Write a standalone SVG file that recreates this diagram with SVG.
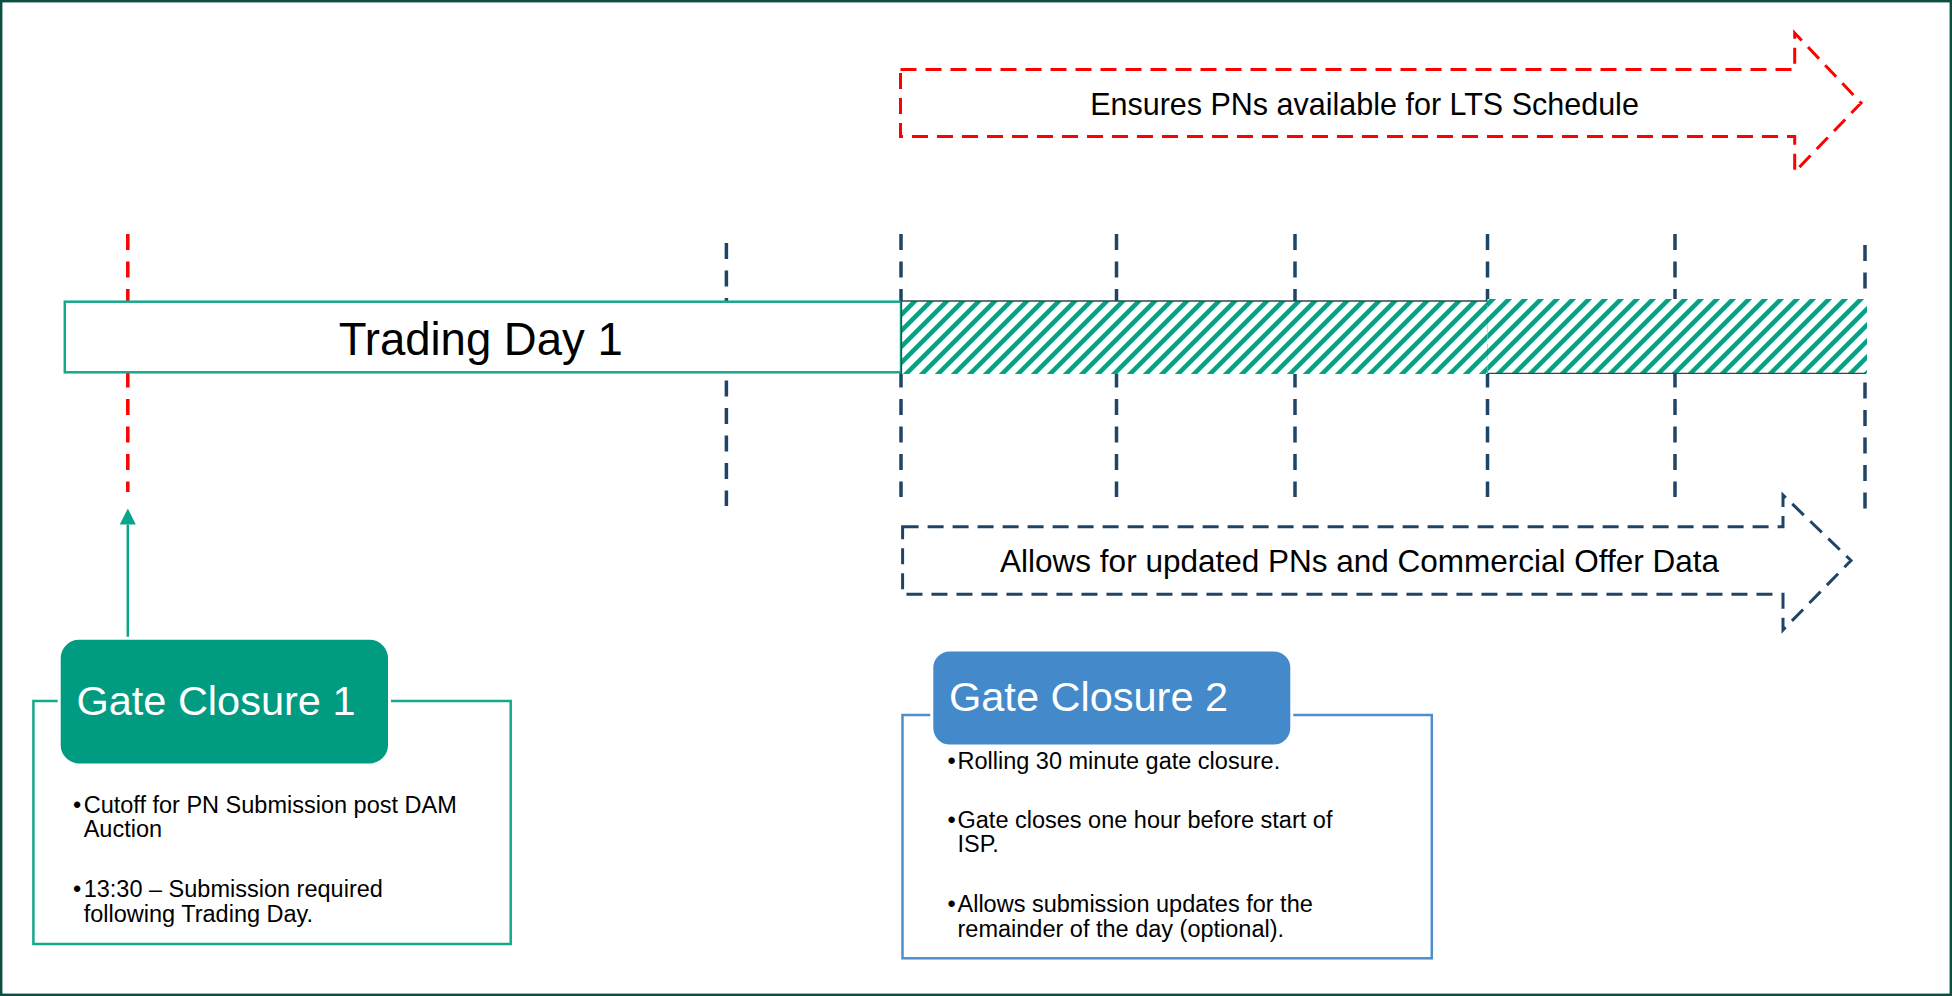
<svg xmlns="http://www.w3.org/2000/svg" width="1952" height="996" viewBox="0 0 1952 996">
<style>
text{font-family:"Liberation Sans",Arial,sans-serif;fill:#000}
.tick{stroke:#1f4468;stroke-width:3.5;stroke-dasharray:16 11.5;fill:none}
.red{stroke:#ff0000;stroke-width:3.5;stroke-dasharray:16 11.5;fill:none}
.hdr{font-size:41.5px;fill:#fff}
.bul{font-size:23.5px}
</style>
<defs>
<pattern id="hatch" patternUnits="userSpaceOnUse" width="16" height="16">
<rect width="16" height="16" fill="#fff"/>
<path d="M-4,4 L4,-4 M0,16 L16,0 M12,20 L20,12" stroke="#07a283" stroke-width="4.5"/>
</pattern>
<marker id="ah" viewBox="0 0 16 16" refX="0" refY="8" markerWidth="16" markerHeight="16" markerUnits="userSpaceOnUse" orient="auto">
<path d="M0,0 L16,8 L0,16 Z" fill="#0aa58a"/>
</marker>
</defs>
<rect x="0" y="0" width="1952" height="996" fill="#fff"/>
<rect x="1.2" y="1.2" width="1949.6" height="993.6" fill="none" stroke="#0b4f42" stroke-width="2.4"/>

<g id="ticks">
<line class="red" x1="127.8" y1="234" x2="127.8" y2="492"/>
<line class="tick" x1="726.4" y1="243" x2="726.4" y2="506"/>
<line class="tick" x1="901" y1="234" x2="901" y2="497"/>
<line class="tick" x1="1116.5" y1="234" x2="1116.5" y2="497"/>
<line class="tick" x1="1295" y1="234" x2="1295" y2="497"/>
<line class="tick" x1="1487.5" y1="234" x2="1487.5" y2="497"/>
<line class="tick" x1="1675" y1="234" x2="1675" y2="497"/>
<line class="tick" x1="1865" y1="245" x2="1865" y2="509"/>
</g>

<g id="trading-day-1">
<rect x="64.8" y="301.7" width="836.2" height="70.6" fill="#fff" stroke="#17a88c" stroke-width="2.5"/>
<text x="480.7" y="355" font-size="45.5" text-anchor="middle">Trading Day 1</text>
</g>

<g id="trading-day-2-hatch">
<rect x="901.5" y="301" width="586" height="73" fill="url(#hatch)"/>
<path d="M901.5,374 V301 H1487.5" fill="none" stroke="#2e4a48" stroke-width="1.3"/>
</g>
<g id="trading-day-3-hatch">
<rect x="1487.5" y="299" width="379.5" height="74.3" fill="url(#hatch)"/>
<path d="M1487.5,373.3 H1866" fill="none" stroke="#2e4a48" stroke-width="1.3"/>
</g>

<g id="lts-arrow">
<path d="M900.5,69.5 H1794.7 V33 L1861,103 L1794.7,172 V136.5 H900.5 Z" fill="none" stroke="#ff0000" stroke-width="3" stroke-dasharray="16 9"/>
<text x="1364.5" y="115" font-size="30.5" text-anchor="middle">Ensures PNs available for LTS Schedule</text>
</g>

<g id="updates-arrow">
<path d="M902.6,526.7 H1783 V495 L1851,560.5 L1783,630 V594.3 H902.6 Z" fill="none" stroke="#1f4468" stroke-width="3" stroke-dasharray="16 9"/>
<text x="1359.6" y="572" font-size="31.5" text-anchor="middle">Allows for updated PNs and Commercial Offer Data</text>
</g>

<g id="connectors">
<line x1="127.8" y1="638" x2="127.8" y2="524.5" stroke="#0aa58a" stroke-width="2.5" marker-end="url(#ah)"/>
</g>

<g id="gate-closure-1">
<rect x="33.4" y="701" width="477.3" height="243" fill="#fff" stroke="#17a88c" stroke-width="2.5"/>
<rect x="59.2" y="638.3" width="330.3" height="126.7" rx="20" fill="#009b80" stroke="#fff" stroke-width="3"/>
<text class="hdr" x="76.4" y="715">Gate Closure 1</text>
<text class="bul"><tspan x="73" y="812.7">•</tspan><tspan x="83.7" y="812.7">Cutoff for PN Submission post DAM</tspan><tspan x="83.7" y="837.3">Auction</tspan></text>
<text class="bul"><tspan x="73" y="896.7">•</tspan><tspan x="83.7" y="896.7">13:30 – Submission required</tspan><tspan x="83.7" y="921.7">following Trading Day.</tspan></text>
</g>

<g id="gate-closure-2">
<rect x="902.5" y="715" width="529.3" height="243.3" fill="#fff" stroke="#4d8fcc" stroke-width="2.5"/>
<rect x="931.8" y="650" width="360" height="96" rx="18" fill="#4489c9" stroke="#fff" stroke-width="3"/>
<text class="hdr" x="949" y="710.7">Gate Closure 2</text>
<text class="bul"><tspan x="947.5" y="769.3">•</tspan><tspan x="957.5" y="769.3">Rolling 30 minute gate closure.</tspan></text>
<text class="bul"><tspan x="947.5" y="827.7">•</tspan><tspan x="957.5" y="827.7">Gate closes one hour before start of</tspan><tspan x="957.5" y="852.3">ISP.</tspan></text>
<text class="bul"><tspan x="947.5" y="911.7">•</tspan><tspan x="957.5" y="911.7">Allows submission updates for the</tspan><tspan x="957.5" y="936.7">remainder of the day (optional).</tspan></text>
</g>
</svg>
